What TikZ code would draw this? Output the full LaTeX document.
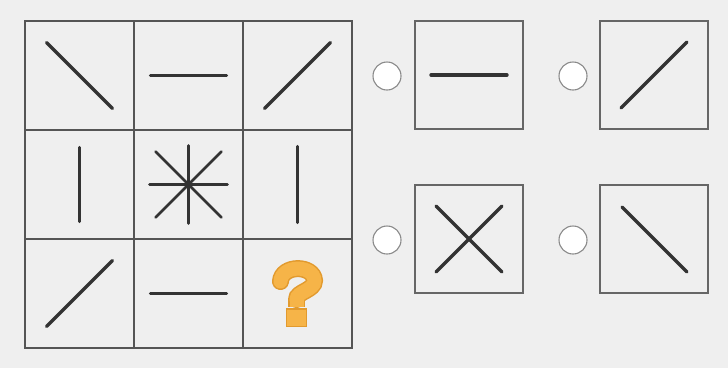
\documentclass[tikz,border=0pt]{standalone}
\usetikzlibrary{calc}
\definecolor{bg}{HTML}{EFEFEF}
\definecolor{gridc}{HTML}{555555}
\definecolor{boxc}{HTML}{666666}
\definecolor{ink}{HTML}{333333}
\definecolor{qfill}{HTML}{F6B448}
\definecolor{qline}{HTML}{E29A2E}
\definecolor{radio}{HTML}{8A8A8A}
\tikzset{
  cell/.style={draw=gridc,line width=1.3pt,minimum size=109pt,inner sep=0pt,fill=bg},
  optbox/.style={draw=boxc,line width=1.5pt,minimum width=108pt,minimum height=108pt,inner sep=0pt,fill=bg},
  radiobtn/.style={circle,draw=radio,line width=1.1pt,fill=white,minimum size=28pt,inner sep=0pt},
  stroke/.style={draw=ink,line width=3.4pt,line cap=round},
  thinstroke/.style={draw=ink,line width=2.8pt,line cap=round},
}
\begin{document}
\begin{tikzpicture}[x=1pt,y=-1pt]
\fill[bg] (0,0) rectangle (728,368);
\useasboundingbox (0,0) rectangle (728,368);
% grid cells
\node[cell] (c11) at (79.5,75.5) {};
\node[cell] (c12) at (188.5,75.5) {};
\node[cell] (c13) at (297.5,75.5) {};
\node[cell] (c21) at (79.5,184.5) {};
\node[cell] (c22) at (188.5,184.5) {};
\node[cell] (c23) at (297.5,184.5) {};
\node[cell] (c31) at (79.5,293.5) {};
\node[cell] (c32) at (188.5,293.5) {};
\node[cell] (c33) at (297.5,293.5) {};
% contents
\draw[stroke] ($(c11)+(-33,-33)$) -- ($(c11)+(33,33)$);
\draw[stroke] ($(c12)+(-38,0)$) -- ($(c12)+(38,0)$);
\draw[stroke] ($(c13)+(-33,33)$) -- ($(c13)+(33,-33)$);
\draw[stroke] ($(c21)+(0,-37)$) -- ($(c21)+(0,37)$);
\draw[thinstroke] ($(c22)+(-39,0)$) -- ($(c22)+(39,0)$);
\draw[thinstroke] ($(c22)+(0,-39)$) -- ($(c22)+(0,39)$);
\draw[thinstroke] ($(c22)+(-33,-33)$) -- ($(c22)+(33,33)$);
\draw[thinstroke] ($(c22)+(-33,33)$) -- ($(c22)+(33,-33)$);
\draw[stroke] ($(c23)+(0,-38)$) -- ($(c23)+(0,38)$);
\draw[stroke] ($(c31)+(-33,33)$) -- ($(c31)+(33,-33)$);
\draw[stroke] ($(c32)+(-38,0)$) -- ($(c32)+(38,0)$);
% question mark
\coordinate (q) at (c33);
\draw[qline,line width=17pt,line cap=round] ($(q)+(-17,-12)$) .. controls ($(q)+(-16,-29)$) and ($(q)+(16,-29)$) .. ($(q)+(17,-13)$) .. controls ($(q)+(17,-3)$) and ($(q)+(-1,-2)$) .. ($(q)+(-1,6)$);
\draw[qline,line width=17pt] ($(q)+(-1,4)$) -- ($(q)+(-1,13)$);
\draw[qfill,line width=14pt,line cap=round] ($(q)+(-17,-12)$) .. controls ($(q)+(-16,-29)$) and ($(q)+(16,-29)$) .. ($(q)+(17,-13)$) .. controls ($(q)+(17,-3)$) and ($(q)+(-1,-2)$) .. ($(q)+(-1,6)$);
\draw[qfill,line width=14pt] ($(q)+(-1,4)$) -- ($(q)+(-1,13.5)$);
\draw[qline,fill=qfill,line width=1.4pt] ($(q)+(-11,15.5)$) rectangle ($(q)+(9,33)$);
% options
\node[optbox] (o1) at (469,75) {};
\node[optbox] (o2) at (654,75) {};
\node[optbox] (o3) at (469,239) {};
\node[optbox] (o4) at (654,239) {};
\node[radiobtn] (r1) at (387,76) {};
\node[radiobtn] (r2) at (573,76) {};
\node[radiobtn] (r3) at (387,240) {};
\node[radiobtn] (r4) at (573,240) {};
\draw[stroke] ($(o1)+(-38,0)$) -- ($(o1)+(38,0)$);
\draw[stroke] ($(o2)+(-33,33)$) -- ($(o2)+(33,-33)$);
\draw[stroke] ($(o3)+(-33,-33)$) -- ($(o3)+(33,33)$);
\draw[stroke] ($(o3)+(-33,33)$) -- ($(o3)+(33,-33)$);
\draw[stroke] ($(o4)+(-32,-32)$) -- ($(o4)+(33,33)$);
\end{tikzpicture}
\end{document}
